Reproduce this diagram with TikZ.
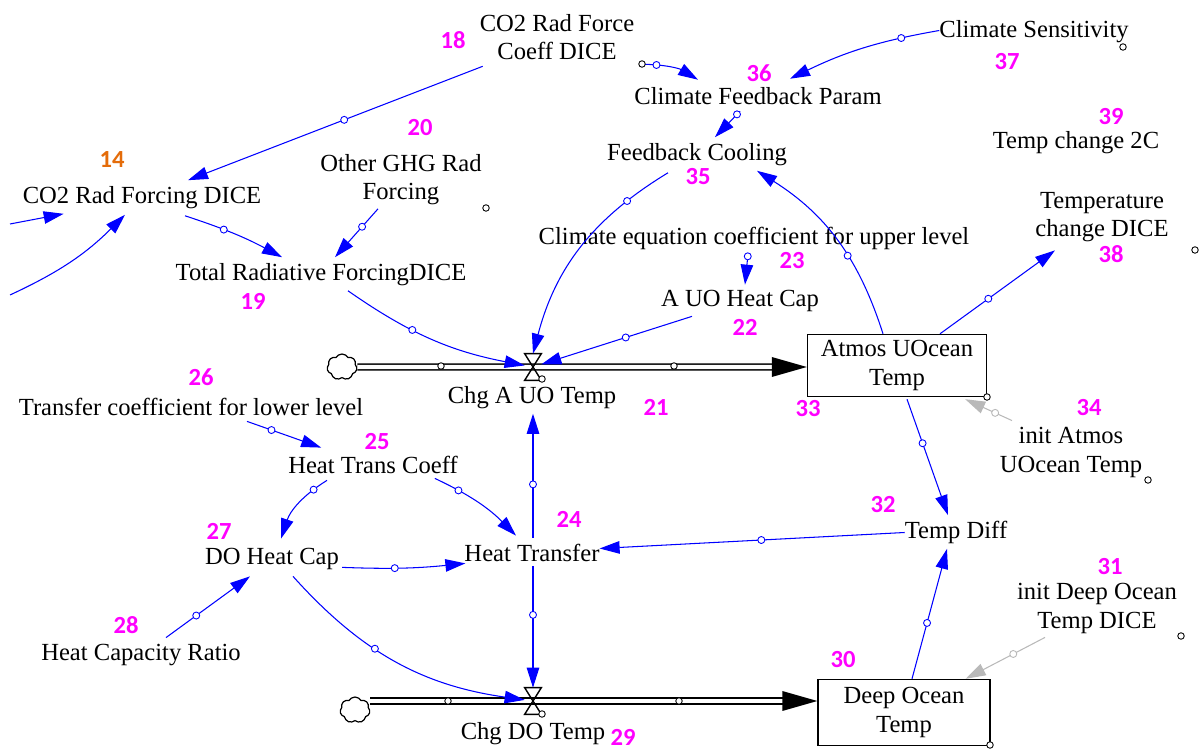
\documentclass[tikz,border=0pt]{standalone}
\usepackage{fontspec}
\setmainfont{Liberation Serif}
\newfontfamily\numfont{Carlito}
\usepackage{tikz}
\usetikzlibrary{arrows.meta,calc,shapes.symbols}

\definecolor{vblue}{RGB}{0,0,255}
\definecolor{vmag}{RGB}{255,0,255}
\definecolor{vorange}{RGB}{228,108,10}
\definecolor{vgray}{RGB}{185,185,185}

\tikzset{
  var/.style={font=\fontsize{14}{16}\selectfont, align=center, inner sep=1pt, yshift=-0.05cm},
  num/.style={font=\numfont\bfseries\fontsize{14}{16}\selectfont, text=vmag, inner sep=0pt},
  stock/.style={var, draw, line width=0.8pt},
  link/.style={draw=vblue, line width=0.6pt, -{Triangle[length=0.4cm,width=0.25cm]}},
  initlink/.style={link, draw=vgray},
  hdl/.style={circle, draw=vblue, fill=white, inner sep=0pt, minimum size=0.14cm, line width=0.5pt},
  ghdl/.style={hdl, draw=vgray},
  pipe/.style={draw=black, double=white, double distance=0.085cm, line width=0.9pt},
  valve/.style={inner sep=0pt, minimum width=0.32cm, minimum height=0.52cm},
  sink/.style={cloud, draw, cloud puffs=7, cloud puff arc=120, aspect=1.15, inner sep=0pt,
    minimum width=0.6cm, minimum height=0.52cm, line width=0.7pt}
}

\begin{document}
\begin{tikzpicture}[x=0.02cm, y=-0.02cm]
    \useasboundingbox (0,0) rectangle (1201,749);

    % variables
    \node[var] (coeff) at (557,35) {CO2 Rad Force\\Coeff DICE};
    \node[var] (csens) at (1034,29) {Climate Sensitivity};
    \node[var] (cfp) at (758,94) {Climate Feedback Param};
    \node[var] (fc) at (697,152) {Feedback Cooling};
    \node[var] (tc2c) at (1076,140) {Temp change 2C};
    \node[var] (co2rf) at (142,195) {CO2 Rad Forcing DICE};
    \node[var] (oghg) at (401,177) {Other GHG Rad\\Forcing};
    \node[var] (tcd) at (1102,215) {Temperature\\change DICE};
    \node[var] (ceq) at (754,236) {Climate equation coefficient for upper level};
    \node[var] (trf) at (321,272) {Total Radiative ForcingDICE};
    \node[var] (auohc) at (740,298) {A UO Heat Cap};
    \node[var] (chgA) at (532,395) {Chg A UO Temp};
    \node[var] (tcl) at (191,404) {Transfer coefficient for lower level};
    \node[var] (initatm) at (1071,450) {init Atmos\\UOcean Temp};
    \node[var] (htc) at (373,462) {Heat Trans Coeff};
    \node[var] (tdiff) at (956,530) {Temp Diff};
    \node[var] (ht) at (532,550) {Heat Transfer};
    \node[var] (doh) at (272,556) {DO Heat Cap};
    \node[var] (initdeep) at (1097,606) {init Deep Ocean\\Temp DICE};
    \node[var] (hcr) at (141,653) {Heat Capacity Ratio};
    \node[var] (chgD) at (533,731) {Chg DO Temp};

    % stocks, valves, clouds
    \node[stock, minimum width=3.58cm, minimum height=1.24cm] (atmos) at (897,363) {Atmos UOcean\\Temp};
    \node[stock, minimum width=3.44cm, minimum height=1.32cm] (deep) at (904,710) {Deep Ocean\\Temp};
    \node[valve] (v1) at (533,367) {};
    \node[valve] (v2) at (533,701) {};
    \node[sink] (src1) at (342,367) {};
    \node[sink] (src2) at (355,710) {};

    % numbers
    \node[num, text=vorange] (n14) at (112,160) {14};
    \node[num] (n18) at (453,40) {18};
    \node[num] (n20) at (420,128) {20};
    \node[num] (n19) at (253,301) {19};
    \node[num] (n36) at (759,73) {36};
    \node[num] (n35) at (698,177) {35};
    \node[num] (n37) at (1007,62) {37};
    \node[num] (n39) at (1111,117) {39};
    \node[num] (n38) at (1111,254) {38};
    \node[num] (n23) at (792,261) {23};
    \node[num] (n22) at (745,327) {22};
    \node[num] (n21) at (656,407) {21};
    \node[num] (n33) at (808,409) {33};
    \node[num] (n34) at (1089,408) {34};
    \node[num] (n26) at (201,377) {26};
    \node[num] (n25) at (377,442) {25};
    \node[num] (n24) at (569,519) {24};
    \node[num] (n32) at (883,505) {32};
    \node[num] (n27) at (219,531) {27};
    \node[num] (n31) at (1110,567) {31};
    \node[num] (n28) at (126,625) {28};
    \node[num] (n30) at (843,660) {30};
    \node[num] (n29) at (623,737) {29};

    % flows
    \draw[pipe] (src1.east) -- ($(v1 -| atmos.west)+(-34,0)$);
    \fill (v1 -| atmos.west) -- ++(-35,-10) -- ++(0,20) -- cycle;
    \draw[pipe] (src2.east |- v2) -- ($(v2 -| deep.west)+(-34,0)$);
    \fill (v2 -| deep.west) -- ++(-35,-10) -- ++(0,20) -- cycle;
    \draw[line width=0.8pt] (v1.north west) -- (v1.north east) -- (v1.south west) -- (v1.south east) -- cycle;
    \draw[line width=0.8pt] (v2.north west) -- (v2.north east) -- (v2.south west) -- (v2.south east) -- cycle;

    % connectors
    \coordinate (inA) at (10,224);
    \coordinate (inB) at (10,295);
    \draw[link] ($(coeff.south west)+(5,4)$) -- node[hdl, pos=.47] {} ($(co2rf.north)+(46,-4)$);
    \draw[link] (inA) -- ($(co2rf.south west)+(43,3)$);
    \draw[link] (inB) to[bend right=10] ($(co2rf.south)+(-17,4)$);
    \draw[link] ($(co2rf.south)+(43,5)$) to[bend left=5] node[hdl, pos=.38] {} ($(trf.north)+(-39,-4)$);
    \draw[link] ($(oghg.south)+(-23,2)$) -- node[hdl, pos=.37] {} ($(trf.north)+(14,-4)$);
    \draw[link] ($(trf.south)+(27,3)$) to[bend right=12] node[hdl, pos=.38] {} (v1);
    \draw[link] ($(fc.south)+(-29,5)$) to[bend right=22] node[hdl, pos=.2] {} (v1.north);
    \draw[link] ($(auohc.south west)+(33,3)$) -- node[hdl, pos=.44] {} (v1);
    \draw[link] ($(ceq.south)+(-6,2)$) -- node[hdl, pos=.08] {} ($(auohc.north)+(5,-3)$);
    \draw[link] ($(cfp.south)+(-18,4)$) -- node[hdl, pos=.12] {} ($(fc.north)+(18,-4)$);
    \draw[link] ($(coeff.south east)+(8,2)$) to[bend left=15] node[hdl, pos=.2] {} ($(cfp.north)+(-60,-6)$);
    \draw[link] ($(csens.west)+(2,-1)$) to[bend right=8] node[hdl, pos=.23] {} ($(cfp.north)+(32,-7)$);
    \draw[link] ($(atmos.north)+(-14,0)$) to[bend right=20] node[hdl, pos=.4] {} ($(fc.south)+(60,3)$);
    \draw[link] ($(atmos.north)+(43,0)$) -- node[hdl, pos=.42] {} ($(tcd.south)+(-47,6)$);
    \draw[link] ($(atmos.south)+(10,2)$) -- node[hdl, pos=.38] {} ($(tdiff.north)+(-8,-4)$);
    \draw[link] ($(deep.north)+(8,0)$) -- node[hdl, pos=.43] {} ($(tdiff.south)+(-9,3)$);
    \draw[link] ($(tdiff.west)+(2,0)$) -- node[hdl, pos=.47] {} ($(ht.east)+(-2,-4)$);
    \draw[link] ($(ht.north)+(1,-4)$) -- node[hdl, pos=.43] {} ($(chgA.south)+(1,3)$);
    \draw[link] ($(ht.south)+(1,3)$) -- node[hdl, pos=.4] {} (v2.north);
    \draw[link] ($(htc.south east)+(-25,3)$) to[bend left=10] node[hdl, pos=.25] {} ($(ht.north)+(-16,-6)$);
    \draw[link] ($(htc.south)+(-46,5)$) to[bend right=20] node[hdl, pos=.2] {} ($(doh.north)+(9,-7)$);
    \draw[link] ($(tcl.south)+(56,4)$) -- node[hdl, pos=.33] {} ($(htc.north west)+(35,-6)$);
    \draw[link] ($(doh.south east)+(1,-4)$) to[bend right=4] node[hdl, pos=.42] {} ($(ht.south west)+(3,0)$);
    \draw[link] ($(doh.south)+(21,5)$) to[bend right=20] node[hdl, pos=.4] {} (v2);
    \draw[link] ($(hcr.north)+(25,-5)$) -- node[hdl, pos=.36] {} ($(doh.south)+(-22,5)$);
    \draw[initlink] ($(initdeep.south)+(-52,2)$) -- node[ghdl, pos=.4] {} ($(deep.north east)+(-25,0)$);
    \draw[initlink] ($(initatm.north)+(-59,-5)$) -- node[ghdl, pos=.36] {} ($(atmos.south east)+(-22,2)$);

    % small handles
    \foreach \x/\y in {486/208, 642/64, 1123/47, 1195/250, 987/397, 1148/480, 1181/636, 990/745,
                       441/366, 674/366, 448/701, 679/701, 542/379, 542/714}
        \draw[fill=white, line width=0.5pt] (\x,\y) circle[radius=0.065cm];
\end{tikzpicture}
\end{document}
